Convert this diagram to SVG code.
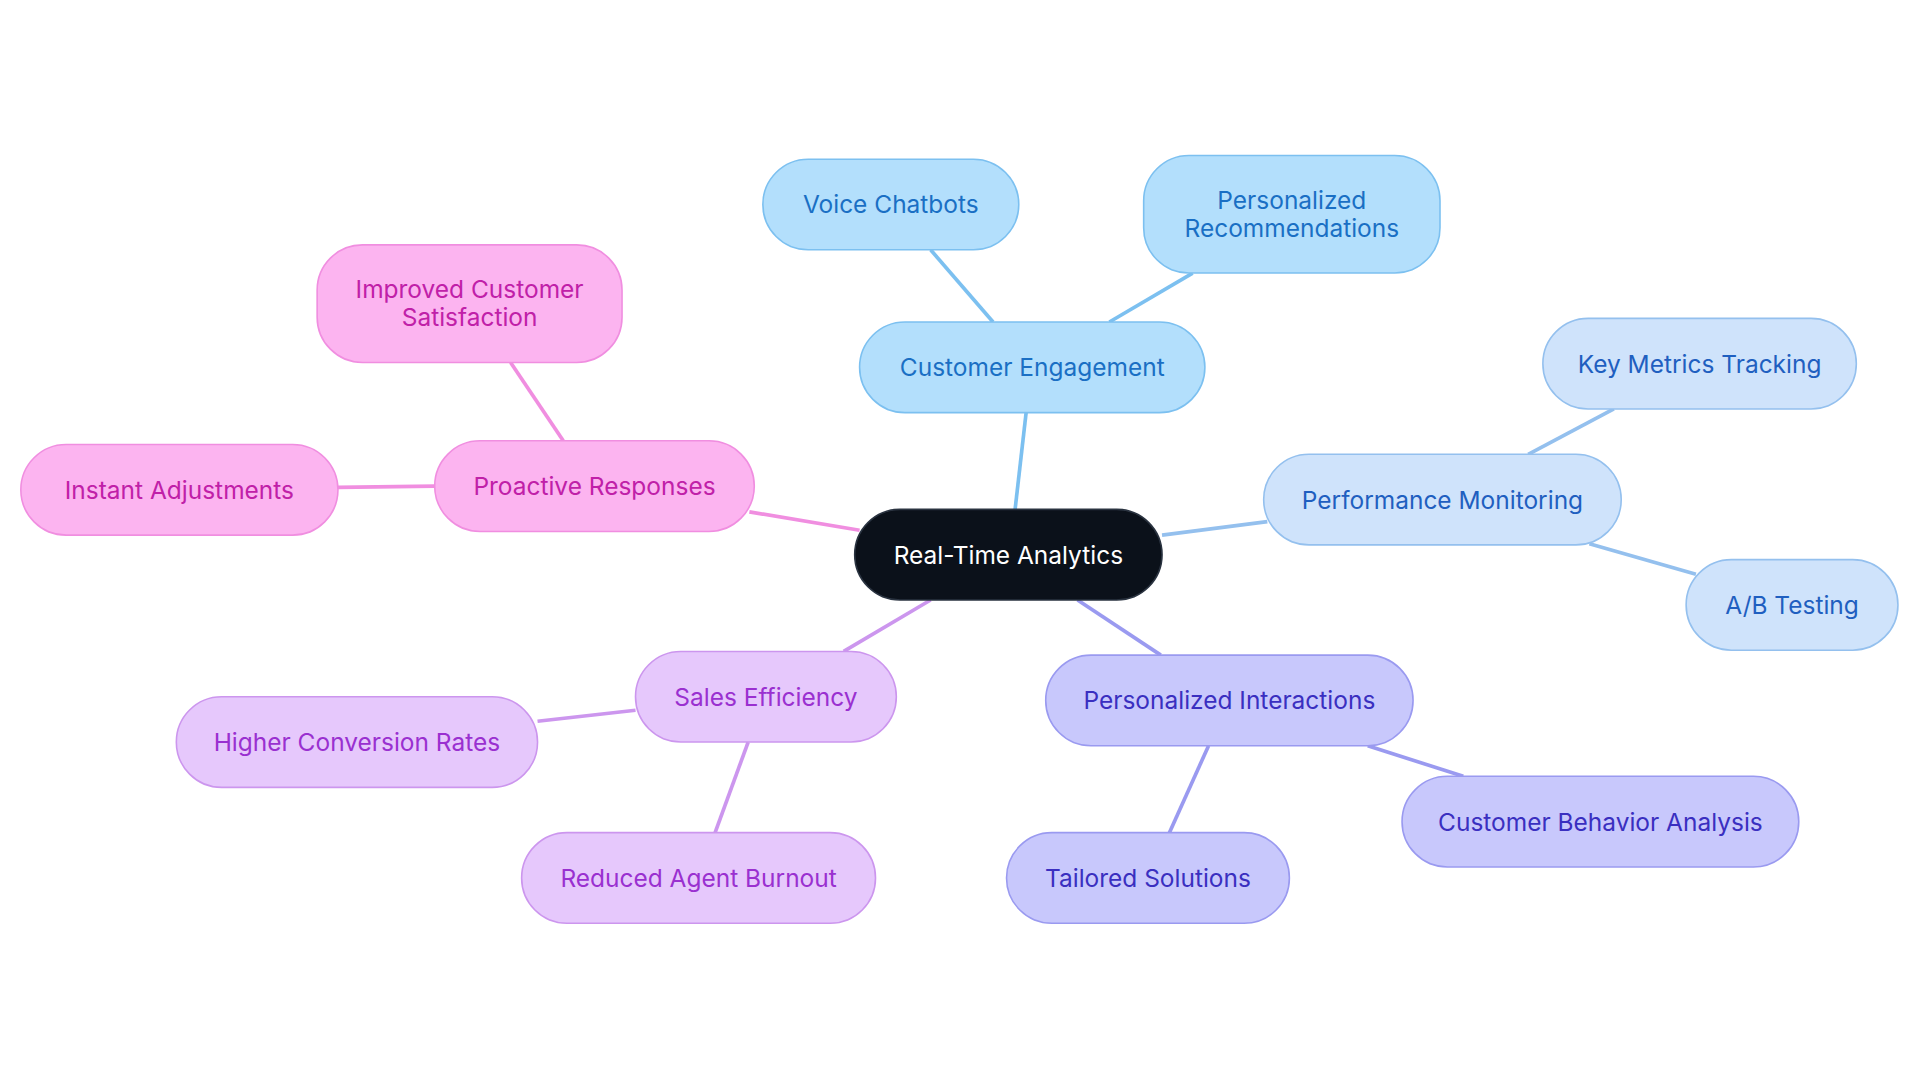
<svg xmlns="http://www.w3.org/2000/svg" width="1920" height="1083" viewBox="0 0 1920 1083">
<style>
text{font-family:Inter,"Noto Sans","Liberation Sans",sans-serif;font-size:20px;text-anchor:middle;dominant-baseline:central}
rect{stroke-width:1.3}
.c0 rect{fill:#0b111a;stroke:#2a3340}.c0 text{fill:#fff}
.b rect{fill:#b3dffc;stroke:#7cc0f0}.b text{fill:#1a6fc4}
.l rect{fill:#cfe3fb;stroke:#94c0ee}.l text{fill:#1f5fc0}
.i rect{fill:#c8c8fc;stroke:#9a9af0}.i text{fill:#3a2fc0}
.p rect{fill:#e6c8fc;stroke:#cc96ee}.p text{fill:#9a30d0}
.k rect{fill:#fcb4f0;stroke:#f08ee0}.k text{fill:#c020a8}
#edges line{stroke-width:3}
</style>
<rect width="1920" height="1083" fill="#fff"/>
<g transform="scale(1.22449)">
<g id="edges">
<line x1="829" y1="416" x2="838" y2="337" stroke="#7cc0f0"/>
<line x1="811" y1="263" x2="760" y2="204" stroke="#7cc0f0"/>
<line x1="906" y1="263" x2="974" y2="223" stroke="#7cc0f0"/>
<line x1="949" y1="437" x2="1035" y2="426" stroke="#94c0ee"/>
<line x1="1248" y1="371" x2="1318" y2="334" stroke="#94c0ee"/>
<line x1="1298" y1="444" x2="1385" y2="469" stroke="#94c0ee"/>
<line x1="880" y1="490" x2="948" y2="535" stroke="#9a9af0"/>
<line x1="1117" y1="609" x2="1195" y2="634" stroke="#9a9af0"/>
<line x1="987" y1="609" x2="955" y2="680" stroke="#9a9af0"/>
<line x1="760" y1="490" x2="689" y2="532" stroke="#cc96ee"/>
<line x1="519" y1="580" x2="439" y2="589" stroke="#cc96ee"/>
<line x1="611" y1="606" x2="584" y2="680" stroke="#cc96ee"/>
<line x1="702" y1="433" x2="612" y2="418" stroke="#f08ee0"/>
<line x1="460" y1="360" x2="417" y2="296" stroke="#f08ee0"/>
<line x1="355" y1="397" x2="276" y2="398" stroke="#f08ee0"/>
</g>
<g id="center" class="c0"><rect x="698" y="416" width="251" height="74" rx="37"/><text x="823.5" y="453">Real-Time Analytics</text></g>
<g id="ce" class="b"><rect x="702" y="263" width="282" height="74" rx="37"/><text x="843" y="300">Customer Engagement</text></g>
<g id="vc" class="b"><rect x="623" y="130" width="209" height="74" rx="37"/><text x="727.5" y="167">Voice Chatbots</text></g>
<g id="pr" class="b"><rect x="934" y="127" width="242" height="96" rx="37"/><text x="1055" y="163">Personalized</text><text x="1055" y="186">Recommendations</text></g>
<g id="pm" class="l"><rect x="1032" y="371" width="292" height="74" rx="37"/><text x="1178" y="408">Performance Monitoring</text></g>
<g id="kmt" class="l"><rect x="1260" y="260" width="256" height="74" rx="37"/><text x="1388" y="297">Key Metrics Tracking</text></g>
<g id="ab" class="l"><rect x="1377" y="457" width="173" height="74" rx="37"/><text x="1463.5" y="494">A/B Testing</text></g>
<g id="pi" class="i"><rect x="854" y="535" width="300" height="74" rx="37"/><text x="1004" y="572">Personalized Interactions</text></g>
<g id="cba" class="i"><rect x="1145" y="634" width="324" height="74" rx="37"/><text x="1307" y="671">Customer Behavior Analysis</text></g>
<g id="ts" class="i"><rect x="822" y="680" width="231" height="74" rx="37"/><text x="937.5" y="717">Tailored Solutions</text></g>
<g id="se" class="p"><rect x="519" y="532" width="213" height="74" rx="37"/><text x="625.5" y="569">Sales Efficiency</text></g>
<g id="hcr" class="p"><rect x="144" y="569" width="295" height="74" rx="37"/><text x="291.5" y="606">Higher Conversion Rates</text></g>
<g id="rab" class="p"><rect x="426" y="680" width="289" height="74" rx="37"/><text x="570.5" y="717">Reduced Agent Burnout</text></g>
<g id="prr" class="k"><rect x="355" y="360" width="261" height="74" rx="37"/><text x="485.5" y="397">Proactive Responses</text></g>
<g id="ics" class="k"><rect x="259" y="200" width="249" height="96" rx="37"/><text x="383.5" y="236">Improved Customer</text><text x="383.5" y="259">Satisfaction</text></g>
<g id="ia" class="k"><rect x="17" y="363" width="259" height="74" rx="37"/><text x="146.5" y="400">Instant Adjustments</text></g>
</g>
</svg>
